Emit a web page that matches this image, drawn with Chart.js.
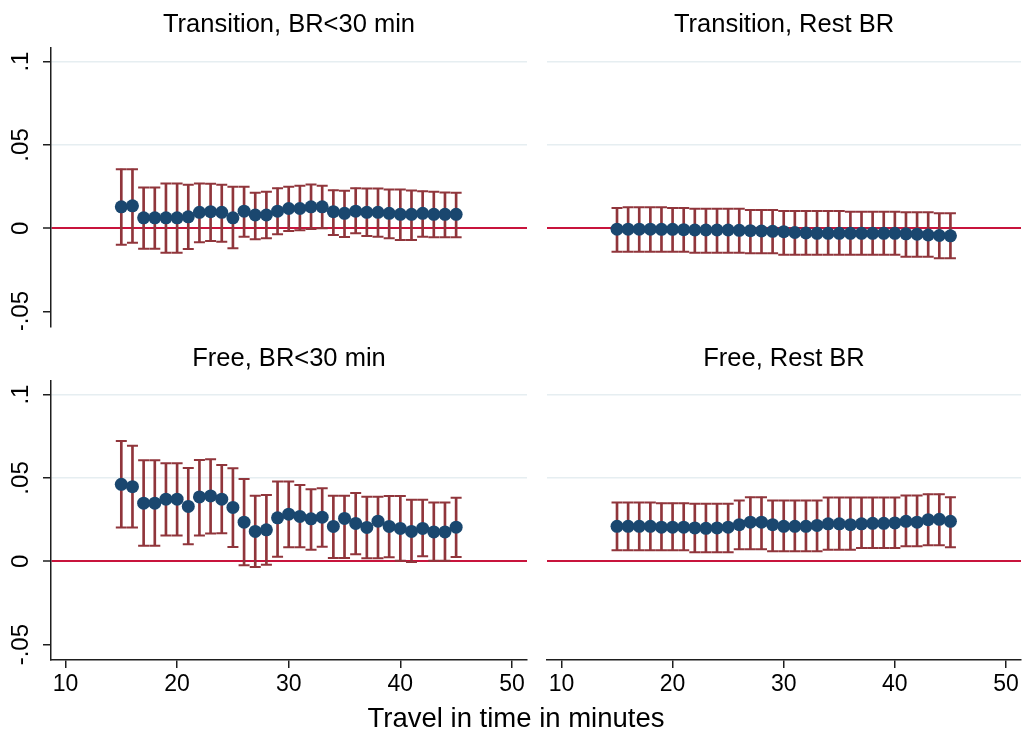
<!DOCTYPE html>
<html>
<head>
<meta charset="utf-8">
<script src="https://cdn.jsdelivr.net/npm/chart.js@4.4.1/dist/chart.umd.min.js"></script>
<style>
  body { margin: 0; background: #fff; width: 1026px; height: 738px; overflow: hidden; position: relative;
         font-family: "Liberation Sans", Arial, sans-serif; }
  canvas { position: absolute; }
  #xtitle { position: absolute; left: 0; width: 1032px; top: 702px; text-align: center;
            font-size: 27.5px; line-height: 32px; color: #000; }
</style>
</head>
<body>
<canvas id="tl" width="578" height="330" style="left:0;top:0"></canvas>
<canvas id="tr" width="484" height="330" style="left:542px;top:0"></canvas>
<canvas id="bl" width="578" height="372" style="left:0;top:333px"></canvas>
<canvas id="br" width="484" height="372" style="left:542px;top:333px"></canvas>
<div id="xtitle">Travel in time in minutes</div>
<script>
// travel time (minutes) for each estimate
var minutes = [15, 16, 17, 18, 19, 20, 21, 22, 23, 24, 25, 26, 27, 28, 29, 30,
               31, 32, 33, 34, 35, 36, 37, 38, 39, 40, 41, 42, 43, 44, 45];

var xTicks = [10, 20, 30, 40, 50];
var yTicks = [-0.05, 0, 0.05, 0.1];
var yTickLabels = ['-.05', '0', '.05', '.1'];

// Transition, BR<30 min
var transShortCoef = [0.0129, 0.0135, 0.0063, 0.0063, 0.0063, 0.0063, 0.0069, 0.0096, 0.0100, 0.0096, 0.0063, 0.0103, 0.0080, 0.0080, 0.0103, 0.0119,
                      0.0119, 0.0129, 0.0129, 0.0100, 0.0090, 0.0103, 0.0096, 0.0096, 0.0090, 0.0084, 0.0084, 0.0090, 0.0084, 0.0084, 0.0084];
var transShortHi   = [0.0355, 0.0355, 0.0245, 0.0245, 0.0269, 0.0269, 0.0261, 0.0269, 0.0267, 0.0261, 0.0249, 0.0249, 0.0213, 0.0219, 0.0241, 0.0249,
                      0.0255, 0.0263, 0.0255, 0.0229, 0.0225, 0.0241, 0.0239, 0.0239, 0.0233, 0.0233, 0.0227, 0.0223, 0.0219, 0.0215, 0.0213];
var transShortLo   = [-0.0098, -0.0086, -0.0122, -0.0122, -0.0146, -0.0146, -0.0124, -0.0084, -0.0076, -0.0080, -0.0120, -0.0050, -0.0066, -0.0060, -0.0036, -0.0016,
                      -0.0012, -0.0004, 0.0000, -0.0040, -0.0052, -0.0030, -0.0046, -0.0050, -0.0060, -0.0070, -0.0070, -0.0050, -0.0054, -0.0054, -0.0054];

// Transition, Rest BR
var transRestCoef = [-0.0005, -0.0005, -0.0005, -0.0005, -0.0006, -0.0006, -0.0008, -0.0010, -0.0010, -0.0010, -0.0010, -0.0012, -0.0014, -0.0016, -0.0018, -0.0020,
                     -0.0025, -0.0028, -0.0030, -0.0030, -0.0030, -0.0030, -0.0030, -0.0030, -0.0030, -0.0030, -0.0033, -0.0035, -0.0040, -0.0043, -0.0045];
var transRestHi   = [0.0122, 0.0126, 0.0126, 0.0126, 0.0126, 0.0122, 0.0122, 0.0118, 0.0118, 0.0118, 0.0118, 0.0118, 0.0110, 0.0110, 0.0110, 0.0104,
                     0.0104, 0.0104, 0.0104, 0.0104, 0.0104, 0.0100, 0.0100, 0.0100, 0.0100, 0.0100, 0.0096, 0.0096, 0.0096, 0.0090, 0.0090];
var transRestLo   = [-0.0140, -0.0140, -0.0140, -0.0140, -0.0140, -0.0140, -0.0140, -0.0146, -0.0146, -0.0146, -0.0146, -0.0146, -0.0150, -0.0150, -0.0150, -0.0158,
                     -0.0158, -0.0158, -0.0158, -0.0158, -0.0158, -0.0158, -0.0158, -0.0158, -0.0158, -0.0158, -0.0170, -0.0170, -0.0170, -0.0180, -0.0180];

// Free, BR<30 min
var freeShortCoef = [0.0462, 0.0448, 0.0349, 0.0349, 0.0373, 0.0373, 0.0329, 0.0386, 0.0392, 0.0373, 0.0323, 0.0235, 0.0179, 0.0189, 0.0261, 0.0283,
                     0.0269, 0.0255, 0.0265, 0.0209, 0.0257, 0.0227, 0.0203, 0.0241, 0.0209, 0.0197, 0.0179, 0.0197, 0.0176, 0.0176, 0.0205];
var freeShortHi   = [0.0721, 0.0693, 0.0606, 0.0606, 0.0588, 0.0588, 0.0560, 0.0608, 0.0612, 0.0578, 0.0558, 0.0494, 0.0394, 0.0398, 0.0478, 0.0478,
                     0.0458, 0.0432, 0.0438, 0.0394, 0.0394, 0.0410, 0.0388, 0.0388, 0.0392, 0.0392, 0.0369, 0.0369, 0.0353, 0.0353, 0.0381];
var freeShortLo   = [0.0203, 0.0203, 0.0094, 0.0094, 0.0155, 0.0155, 0.0102, 0.0155, 0.0167, 0.0169, 0.0086, -0.0024, -0.0034, -0.0020, 0.0028, 0.0084,
                     0.0084, 0.0070, 0.0088, 0.0020, 0.0020, 0.0042, 0.0018, 0.0018, 0.0024, 0.0004, -0.0004, 0.0030, 0.0004, 0.0004, 0.0026];

// Free, Rest BR
var freeRestCoef = [0.0210, 0.0210, 0.0210, 0.0210, 0.0205, 0.0205, 0.0205, 0.0200, 0.0198, 0.0200, 0.0205, 0.0220, 0.0235, 0.0235, 0.0220, 0.0210,
                    0.0210, 0.0210, 0.0215, 0.0225, 0.0225, 0.0220, 0.0225, 0.0228, 0.0228, 0.0230, 0.0240, 0.0235, 0.0250, 0.0252, 0.0240];
var freeRestHi   = [0.0353, 0.0353, 0.0353, 0.0353, 0.0349, 0.0349, 0.0349, 0.0345, 0.0345, 0.0345, 0.0345, 0.0365, 0.0385, 0.0385, 0.0365, 0.0365,
                    0.0365, 0.0365, 0.0365, 0.0383, 0.0383, 0.0383, 0.0383, 0.0383, 0.0383, 0.0383, 0.0395, 0.0395, 0.0403, 0.0403, 0.0385];
var freeRestLo   = [0.0066, 0.0066, 0.0066, 0.0066, 0.0066, 0.0066, 0.0066, 0.0054, 0.0054, 0.0054, 0.0054, 0.0072, 0.0072, 0.0072, 0.0060, 0.0060,
                    0.0060, 0.0060, 0.0060, 0.0070, 0.0070, 0.0070, 0.0080, 0.0080, 0.0080, 0.0080, 0.0090, 0.0090, 0.0096, 0.0096, 0.0084];

var navy = '#1a476f', maroon = '#90353b', zeroRed = '#c8143c', gridBlue = '#e6eef1', ink = '#1e1e1e';

Chart.defaults.font.family = '"Liberation Sans", Arial, sans-serif';
Chart.defaults.color = '#000';

function points(vals) {
  return minutes.map(function (m, i) { return { x: m, y: vals[i] }; });
}

function makePanel(id, title, coef, lo, hi, showY, showX) {
  var side = showY ? 0 : 5;
  new Chart(document.getElementById(id), {
    type: 'scatter',
    data: {
      datasets: [{
        type: 'scatter', data: points(coef), xAxisID: 'x', yAxisID: 'y',
        pointRadius: 6.5, pointBackgroundColor: navy, pointBorderWidth: 0, order: 0
      }, {
        type: 'scatter', data: points(hi), xAxisID: 'x', yAxisID: 'y',
        pointStyle: 'line', pointRadius: 5.5, pointBorderColor: maroon, pointBorderWidth: 2, order: 1
      }, {
        type: 'scatter', data: points(lo), xAxisID: 'x', yAxisID: 'y',
        pointStyle: 'line', pointRadius: 5.5, pointBorderColor: maroon, pointBorderWidth: 2, order: 1
      }, {
        type: 'bar', xAxisID: 'x', yAxisID: 'y',
        data: minutes.map(function (m, i) { return { x: m, y: [lo[i], hi[i]] }; }),
        backgroundColor: maroon, barThickness: 2, order: 2
      }]
    },
    options: {
      responsive: false,
      animation: false,
      events: [],
      layout: { autoPadding: false, padding: { left: side, right: side, top: 0, bottom: showX ? 0 : 3 } },
      plugins: {
        legend: { display: false },
        tooltip: { enabled: false },
        title: {
          display: true, text: title, color: '#000',
          font: { size: 25.5, weight: 'normal' },
          padding: showX ? { top: 11, bottom: 6 } : { top: 10, bottom: 7 }
        }
      },
      scales: {
        x: {
          type: 'linear', min: 8.7, max: 51.35, display: showX, offset: false,
          afterBuildTicks: function (s) { s.ticks = xTicks.map(function (v) { return { value: v }; }); },
          afterFit: function (s) { if (showX) { s.height = 45; } s.paddingLeft = 0; s.paddingRight = 0; },
          grid: { offset: false, drawOnChartArea: false, color: ink, lineWidth: 1.5, tickLength: 8 },
          border: { display: true, color: ink, width: 1.5 },
          ticks: { font: { size: 23 }, color: '#000', padding: 3, maxRotation: 0, autoSkip: false }
        },
        y: {
          type: 'linear', position: 'left', min: -0.0592, max: 0.1084,
          afterBuildTicks: function (s) { s.ticks = yTicks.map(function (v) { return { value: v }; }); },
          afterFit: function (s) { s.width = showY ? 51 : 0; s.paddingTop = 0; s.paddingBottom = 0; },
          grid: {
            color: function (c) {
              var v = c.tick ? c.tick.value : null;
              if (v === null) return 'rgba(0,0,0,0)';
              if (Math.abs(v) < 1e-9) return zeroRed;
              return v > 0.01 ? gridBlue : 'rgba(0,0,0,0)';
            },
            lineWidth: function (c) { return c.tick && Math.abs(c.tick.value) < 1e-9 ? 2 : 1.5; },
            drawTicks: showY, tickLength: 8, tickColor: ink, tickWidth: 1.5
          },
          border: { display: showY, color: ink, width: 1.5 },
          ticks: {
            display: showY, autoSkip: false, minRotation: 90, maxRotation: 90, crossAlign: 'center',
            padding: 1, font: { size: 24 }, color: '#000',
            callback: function (v, i) { return yTickLabels[i]; }
          }
        },
        // empty right-hand box so the title centres over the plot area
        yPad: {
          type: 'linear', position: 'right', display: showY,
          afterFit: function (s) { s.width = showY ? 51 : 0; s.paddingTop = 0; s.paddingBottom = 0; },
          ticks: { display: false }, grid: { display: false }, border: { display: false }
        }
      }
    }
  });
}

makePanel('tl', 'Transition, BR<30 min', transShortCoef, transShortLo, transShortHi, true, false);
makePanel('tr', 'Transition, Rest BR', transRestCoef, transRestLo, transRestHi, false, false);
makePanel('bl', 'Free, BR<30 min', freeShortCoef, freeShortLo, freeShortHi, true, true);
makePanel('br', 'Free, Rest BR', freeRestCoef, freeRestLo, freeRestHi, false, true);
</script>
</body>
</html>
